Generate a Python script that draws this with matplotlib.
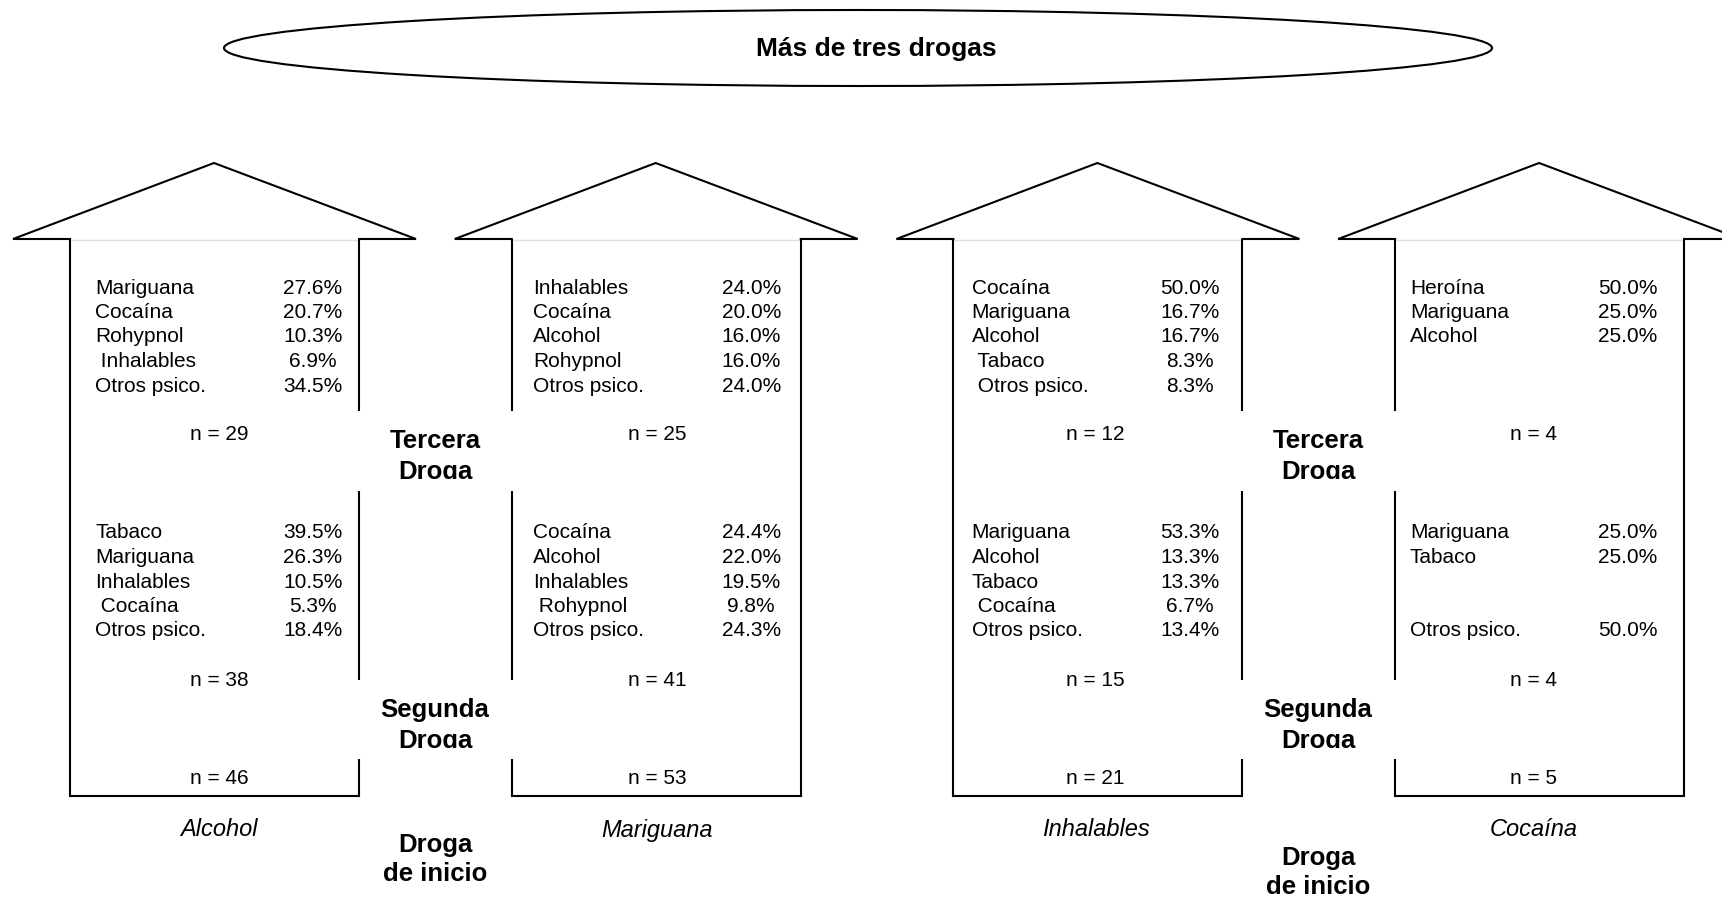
import numpy as np
import matplotlib.pyplot as plt
from matplotlib.patches import Ellipse, Rectangle

plt.rcParams['font.family'] = ['Liberation Sans', 'DejaVu Sans']

# ---- data ----
title = "Más de tres drogas"
start_drugs = ["Alcohol", "Mariguana", "Inhalables", "Cocaína"]
n_start = [46, 53, 21, 5]
n_second = [38, 41, 15, 4]
n_third = [29, 25, 12, 4]

second_labels = [
    ["Tabaco", "Mariguana", "Inhalables", " Cocaína", "Otros psico."],
    ["Cocaína", "Alcohol", "Inhalables", " Rohypnol", "Otros psico."],
    ["Mariguana", "Alcohol", "Tabaco", " Cocaína", "Otros psico."],
    ["Mariguana", "Tabaco", "", "", "Otros psico."],
]
second_pcts = [
    [39.5, 26.3, 10.5, 5.3, 18.4],
    [24.4, 22.0, 19.5, 9.8, 24.3],
    [53.3, 13.3, 13.3, 6.7, 13.4],
    [25.0, 25.0, None, None, 50.0],
]
third_labels = [
    ["Mariguana", "Cocaína", "Rohypnol", " Inhalables", "Otros psico."],
    ["Inhalables", "Cocaína", "Alcohol", "Rohypnol", "Otros psico."],
    ["Cocaína", "Mariguana", "Alcohol", " Tabaco", " Otros psico."],
    ["Heroína", "Mariguana", "Alcohol", "", ""],
]
third_pcts = [
    [27.6, 20.7, 10.3, 6.9, 34.5],
    [24.0, 20.0, 16.0, 16.0, 24.0],
    [50.0, 16.7, 16.7, 8.3, 8.3],
    [50.0, 25.0, 25.0, None, None],
]

# ---- layout (pixel coords) ----
W, H = 1722, 902
fig = plt.figure(figsize=(W / 100, H / 100), dpi=100)
ax = fig.add_axes([0, 0, 1, 1])
ax.set_xlim(0, W)
ax.set_ylim(H, 0)
ax.axis('off')

lw = 1.5
house_step = 441.7
text_step = 438.3
wall_top, wall_bot = 239, 796
gaps = [(411, 491), (680, 759)]

# title ellipse
ax.add_patch(Ellipse((858, 48), 1268, 76, fill=False, lw=lw, color='black'))
ax.text(876, 49, title, ha='center', va='center', fontsize=19, fontweight='bold')


def wall(x, with_gaps):
    if not with_gaps:
        ax.plot([x, x], [wall_top, wall_bot], color='black', lw=lw, solid_capstyle='butt')
        return
    ys = [wall_top]
    for g0, g1 in gaps:
        ys += [g0, g1]
    ys.append(wall_bot)
    for y0, y1 in zip(ys[::2], ys[1::2]):
        ax.plot([x, x], [y0, y1], color='black', lw=lw, solid_capstyle='butt')


row_dy = 24.5
for i in range(4):
    ox = i * house_step
    xl, xr = 70 + ox, 359 + ox
    # roof
    ax.plot([xl, 13 + ox, 214 + ox, 416 + ox, xr],
            [wall_top, wall_top, 163, wall_top, wall_top],
            color='black', lw=lw, solid_joinstyle='miter')
    ax.plot([xl, xr], [wall_top + 1, wall_top + 1], color='#e0e0e0', lw=1)
    # walls and floor
    wall(xl, i % 2 == 1)
    wall(xr, i % 2 == 0)
    ax.plot([xl, xr], [wall_bot, wall_bot], color='black', lw=lw, solid_capstyle='projecting')

    ot = i * text_step
    tx, px, nx = 95 + ot, 313 + ot, 219 + ot
    for blk_y, labels, pcts in [(288, third_labels[i], third_pcts[i]),
                                (533, second_labels[i], second_pcts[i])]:
        for k, (lab, p) in enumerate(zip(labels, pcts)):
            y = blk_y + k * row_dy
            if lab:
                ax.text(tx, y, lab, ha='left', va='center', fontsize=15)
            if p is not None:
                ax.text(px, y, "{:.1f}%".format(p), ha='center', va='center', fontsize=15)
    ax.text(nx, 435, "n = {}".format(n_third[i]), ha='center', va='center', fontsize=15)
    ax.text(nx, 680, "n = {}".format(n_second[i]), ha='center', va='center', fontsize=15)
    ax.text(nx, 779, "n = {}".format(n_start[i]), ha='center', va='center', fontsize=15)
    ax.text(nx, 830, start_drugs[i], ha='center', va='center', fontsize=17, style='italic')

# stage labels between the house pairs (second line cut off like a text box)
for cx, inicio_y in [(435, 845), (1318, 858)]:
    for top, first, clip_y in [(441, "Tercera", 479), (710, "Segunda", 748)]:
        clip = Rectangle((cx - 90, top - 30), 180, clip_y - top + 30,
                         transform=ax.transData)
        for txt, yy in [(first, top), ("Droga", top + 31)]:
            t = ax.text(cx, yy, txt, ha='center', va='center', fontsize=18.5, fontweight='bold')
            t.set_clip_path(clip)
            t.set_clip_on(True)
    ax.text(cx, inicio_y, "Droga", ha='center', va='center', fontsize=18.5, fontweight='bold')
    ax.text(cx, inicio_y + 29, "de inicio", ha='center', va='center', fontsize=18.5, fontweight='bold')

plt.savefig("out.png", dpi=100)
